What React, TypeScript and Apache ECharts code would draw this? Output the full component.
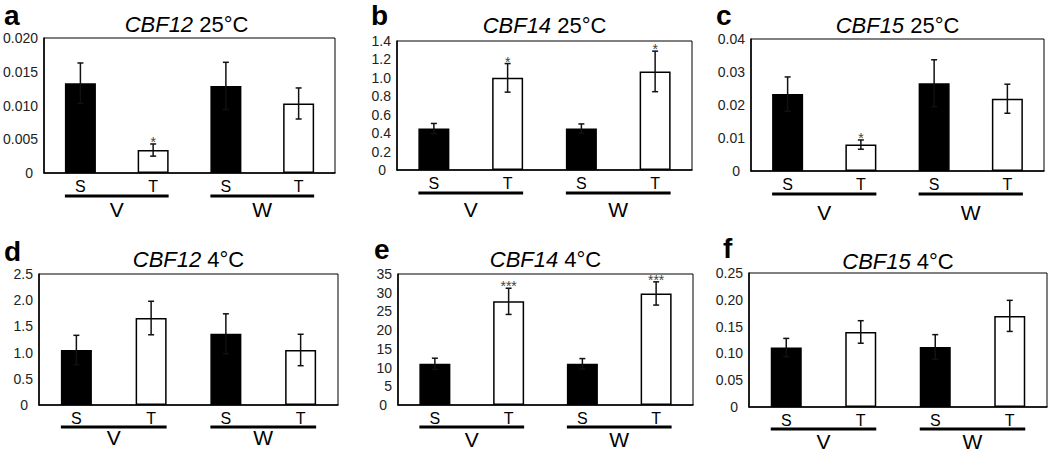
import React, { useEffect, useRef } from "react";
import * as echarts from "echarts";

const FONT = '"Liberation Sans", Arial, Helvetica, sans-serif';

// ---- Data ----
const categories = ["S", "T", "S", "T"];
const groupLabels = ["V", "W"];
const groupSpans = [
  [0, 1],
  [2, 3],
];
const panelLetters = ["a", "b", "c", "d", "e", "f"];
const genes = ["CBF12", "CBF14", "CBF15", "CBF12", "CBF14", "CBF15"];
const temps = ["25°C", "25°C", "25°C", "4°C", "4°C", "4°C"];
const yMax = [0.02, 1.4, 0.04, 2.5, 35, 0.25];
const yInterval = [0.005, 0.2, 0.01, 0.5, 5, 0.05];
const yDecimals = [3, 1, 2, 1, 0, 2];

const meansA = [0.0133, 0.0034, 0.0129, 0.0103];
const errsA = [0.003, 0.0009, 0.0035, 0.0023];
const sigA = ["", "*", "", ""];

const meansB = [0.45, 1.0, 0.45, 1.07];
const errsB = [0.055, 0.155, 0.05, 0.22];
const sigB = ["", "*", "", "*"];

const meansC = [0.0233, 0.008, 0.0266, 0.0219];
const errsC = [0.0052, 0.0014, 0.0071, 0.0044];
const sigC = ["", "*", "", ""];

const meansD = [1.05, 1.66, 1.36, 1.05];
const errsD = [0.28, 0.32, 0.38, 0.3];
const sigD = ["", "", "", ""];

const meansE = [11.0, 27.7, 11.0, 29.8];
const errsE = [1.5, 3.5, 1.4, 3.1];
const sigE = ["", "***", "", "***"];

const meansF = [0.111, 0.14, 0.112, 0.17];
const errsF = [0.017, 0.021, 0.023, 0.029];
const sigF = ["", "", "", ""];

const allMeans = [meansA, meansB, meansC, meansD, meansE, meansF];
const allErrs = [errsA, errsB, errsC, errsD, errsE, errsF];
const allSig = [sigA, sigB, sigC, sigD, sigE, sigF];

// ---- Layout (positions / sizes only) ----
const gridLayouts = [
  { left: 38, top: 38, width: 297, height: 135 },
  { left: 397, top: 41, width: 295, height: 129 },
  { left: 751, top: 39, width: 293, height: 132 },
  { left: 39, top: 274, width: 299, height: 131 },
  { left: 398, top: 274, width: 295, height: 131 },
  { left: 749, top: 273, width: 298, height: 134 },
];
const underlineOffsets = [23, 23, 23, 22, 22, 22];
const groupLabelOffsets = [36, 39, 41, 32, 34, 34];
const titleCenters = [24.7, 25, 25.8, 259.7, 259.3, 261.5];
const letterPos = [
  { x: 4, y: 15 },
  { x: 371, y: 15 },
  { x: 716, y: 15 },
  { x: 4, y: 251 },
  { x: 374, y: 249.5 },
  { x: 723, y: 248 },
];
const BAR_W = 31;

function buildOption() {
  const grid: any[] = [];
  const xAxis: any[] = [];
  const yAxis: any[] = [];
  const series: any[] = [];
  const graphic: any[] = [];

  for (let p = 0; p < 6; p++) {
    const g = gridLayouts[p];
    const means = allMeans[p];
    const errs = allErrs[p];
    const sig = allSig[p];
    const dec = yDecimals[p];
    grid.push({
      left: g.left,
      top: g.top,
      width: g.width,
      height: g.height,
      show: true,
      borderColor: "#000",
      borderWidth: 1,
      backgroundColor: "transparent",
      containLabel: false,
    });
    xAxis.push({
      type: "category",
      gridIndex: p,
      data: categories,
      axisTick: { show: false },
      axisLine: { show: true, lineStyle: { color: "#000", width: 1.5 } },
      axisLabel: { color: "#000", fontSize: 16, fontFamily: FONT, margin: 5 },
      splitLine: { show: false },
    });
    yAxis.push({
      type: "value",
      gridIndex: p,
      min: 0,
      max: yMax[p],
      interval: yInterval[p],
      axisTick: { show: false },
      axisLine: { show: true, lineStyle: { color: "#000", width: 1.5 } },
      splitLine: { show: false },
      axisLabel: {
        color: "#222",
        fontSize: 14,
        fontFamily: FONT,
        margin: 6,
        formatter: (v: number) => (v === 0 ? "{z|0}" : v.toFixed(dec)),
        rich: {
          z: { padding: [0, 5, 0, 0], fontSize: 14, fontFamily: FONT, color: "#222" },
        },
      },
    });
    series.push({
      type: "bar",
      xAxisIndex: p,
      yAxisIndex: p,
      barWidth: BAR_W,
      data: means.map((m, i) => ({
        value: m,
        itemStyle: {
          color: i % 2 === 0 ? "#000" : "#fff",
          borderColor: "#000",
          borderWidth: 1.5,
        },
      })),
      z: 2,
    });
    series.push({
      type: "custom",
      xAxisIndex: p,
      yAxisIndex: p,
      z: 5,
      encode: { x: 0, y: 1 },
      data: means.map((m, i) => [i, m, errs[i]]),
      renderItem: (params: any, api: any) => {
        const x = api.value(0);
        const m = api.value(1);
        const e = api.value(2);
        const top = api.coord([x, m + e]);
        const bot = api.coord([x, m - e]);
        const cx = top[0];
        const st = { stroke: "#111", lineWidth: 1.5 };
        const children: any[] = [
          { type: "line", shape: { x1: cx, y1: top[1], x2: cx, y2: bot[1] }, style: st },
          { type: "line", shape: { x1: cx - 3, y1: top[1], x2: cx + 3, y2: top[1] }, style: st },
          { type: "line", shape: { x1: cx - 3, y1: bot[1], x2: cx + 3, y2: bot[1] }, style: st },
        ];
        const s = sig[params.dataIndex];
        if (s) {
          children.push({
            type: "text",
            x: cx,
            y: top[1] + 5,
            style: {
              text: s,
              fill: "#444",
              font: `14px ${FONT}`,
              textAlign: "center",
              textVerticalAlign: "bottom",
            },
          });
        }
        return { type: "group", children };
      },
    });
    const uOff = underlineOffsets[p];
    const lOff = groupLabelOffsets[p];
    series.push({
      type: "custom",
      xAxisIndex: p,
      yAxisIndex: p,
      z: 5,
      clip: false,
      encode: { x: [0, 1], y: 2 },
      data: groupSpans.map(([a, b]) => [a, b, 0]),
      renderItem: (params: any, api: any) => {
        const p0 = api.coord([api.value(0), 0]);
        const p1 = api.coord([api.value(1), 0]);
        const y = p0[1] + uOff;
        return {
          type: "group",
          children: [
            {
              type: "line",
              shape: { x1: p0[0] - BAR_W / 2, y1: y, x2: p1[0] + BAR_W / 2, y2: y },
              style: { stroke: "#000", lineWidth: 3 },
            },
            {
              type: "text",
              x: (p0[0] + p1[0]) / 2,
              y: p0[1] + lOff,
              style: {
                text: groupLabels[params.dataIndex],
                fill: "#000",
                font: `21px ${FONT}`,
                textAlign: "center",
                textVerticalAlign: "middle",
              },
            },
          ],
        };
      },
    });

    graphic.push({
      type: "text",
      x: g.left + g.width / 2,
      y: titleCenters[p],
      style: {
        text: `{i|${genes[p]}}{n| ${temps[p]}}`,
        rich: {
          i: { fontStyle: "italic", fontSize: 22, fontFamily: FONT, fill: "#000" },
          n: { fontSize: 22, fontFamily: FONT, fill: "#000" },
        },
        fill: "#000",
        font: `22px ${FONT}`,
        textAlign: "center",
        textVerticalAlign: "middle",
      },
    });
    graphic.push({
      type: "text",
      x: letterPos[p].x,
      y: letterPos[p].y,
      style: {
        text: panelLetters[p],
        fill: "#000",
        font: `bold 28px ${FONT}`,
        textAlign: "left",
        textVerticalAlign: "middle",
      },
    });
  }

  return {
    animation: false,
    backgroundColor: "#fff",
    grid,
    xAxis,
    yAxis,
    series,
    graphic,
  };
}

export default function App() {
  const ref = useRef<HTMLDivElement>(null);
  useEffect(() => {
    const chart = echarts.init(ref.current!, null, { renderer: "svg" });
    chart.setOption(buildOption() as any);
    return () => chart.dispose();
  }, []);
  return (
    <div
      ref={ref}
      style={{ position: "fixed", left: 0, top: 0, width: 1050, height: 452, background: "#fff" }}
    />
  );
}
